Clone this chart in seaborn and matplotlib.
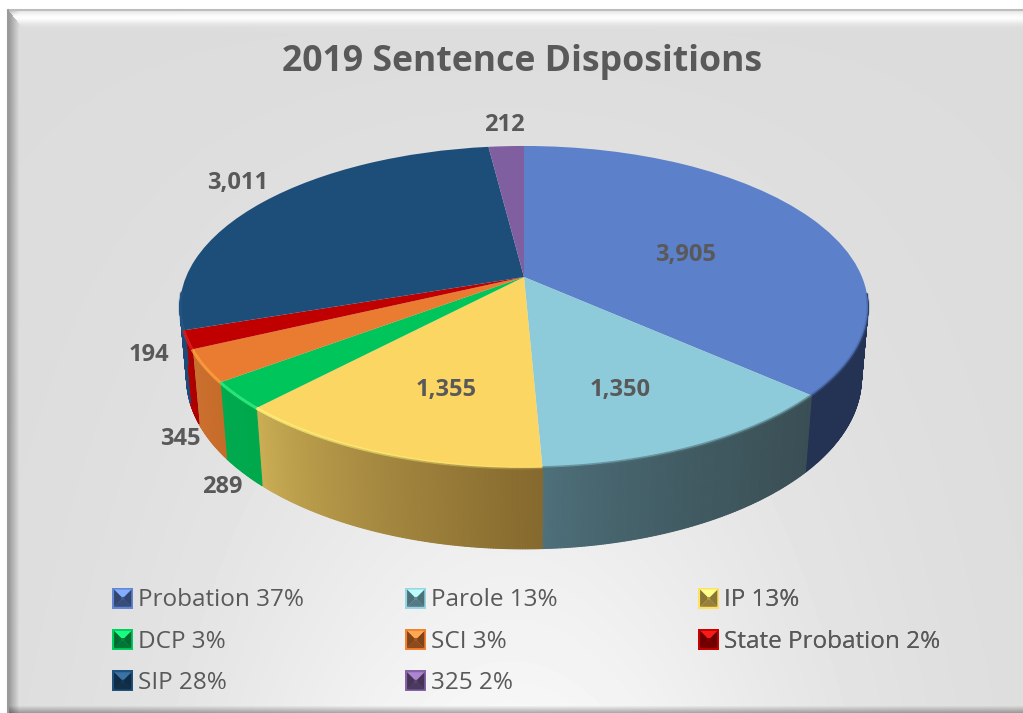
import numpy as np
import matplotlib
matplotlib.use("Agg")
import matplotlib.pyplot as plt
import seaborn as sns
from matplotlib.collections import LineCollection, PolyCollection
from matplotlib.colors import to_rgb
from matplotlib.legend_handler import HandlerBase
from matplotlib.patches import Patch, Polygon
from matplotlib.transforms import Transform

# data
names = ['Probation', 'Parole', 'IP', 'DCP', 'SCI', 'State Probation', 'SIP', '325']
counts = [3905, 1350, 1355, 289, 345, 194, 3011, 212]
title = '2019 Sentence Dispositions'

# styles
top_colors = ['#5c80c9', '#8ecbda', '#fbd663', '#00c55a', '#e97c31', '#c00000', '#1d4e79', '#7f5f9f']
wall_left = ['#243254', '#4f727d', '#cdb055', '#00aa4e', '#cc7030', '#b80000', '#1f4a78', '#5a4070']
wall_right = ['#243254', '#3a4f55', '#85692e', '#00a84c', '#c66c2a', '#a80000', '#1f4a78', '#5a4070']
rim_colors = ['#3d5a94', '#4d6f76', '#fff27a', '#33ee80', '#ffa040', '#e02020', '#2f6494', '#7f5f9f']
rim_alpha = [(0.0, 0.5), (0.6, 0.6), (0.15, 0.9), (0.9, 0.9), (0.9, 0.9), (0.9, 0.9), (0.4, 0.0), (0.0, 0.0)]
label_xy = [(686, 255), (620, 390), (446, 390), (222, 487), (180, 439), (149, 355), (238, 183), (504, 125)]
legend_cols = [[0, 3, 6], [1, 4, 7], [2, 5]]
legend_x = [105, 398, 691]
text_color = '#595959'

sns.set_theme(style='white')
plt.rcParams['font.family'] = ['Open Sans', 'DejaVu Sans']


def project(x, y, z=0.0):
    # camera tilt of the pie, z=1 is the bottom plate
    w = 1 + 0.186 * y + 0.019 * z
    return 524 + 338 * x / w, 277 + (-155.4 * y + 71 * z) / w


class TiltTransform(Transform):
    input_dims = 2
    output_dims = 2
    is_separable = False

    def transform_non_affine(self, values):
        values = np.asarray(values)
        px, py = project(values[:, 0], values[:, 1])
        return np.column_stack([px, py])


class BevelHandler(HandlerBase):
    def create_artists(self, legend, orig_handle, xdescent, ydescent, width, height, fontsize, trans):
        base = np.array(to_rgb(orig_handle.get_facecolor()))
        s = 15
        x0 = width - s - xdescent
        y0 = (height - s) / 2 - ydescent

        def square(inset):
            a, b = x0 + inset, x0 + s - inset
            c, d = y0 + inset, y0 + s - inset
            return [(a, c), (b, c), (b, d), (a, d)]

        outer = square(1.3)
        inner = square(6.5)
        # bottom, right, top, left faces of the little pyramid
        shades = [0.6, 0.55, 1.15, 0.55]
        parts = [Polygon(square(0), closed=True, facecolor=np.clip(base * 1.05, 0, 1), linewidth=0, transform=trans)]
        for k, shade in enumerate(shades):
            tri = [outer[k], outer[(k + 1) % 4], inner[(k + 1) % 4], inner[k]]
            parts.append(Polygon(tri, closed=True, facecolor=np.clip(base * shade + (0.1 if shade > 1 else 0), 0, 1),
                                 linewidth=0, transform=trans))
        parts.append(Polygon(inner, closed=True, facecolor=base * 0.7, linewidth=0, transform=trans))
        return parts


fig = plt.figure(figsize=(10.23, 7.13), dpi=100, facecolor='white')
ax = fig.add_axes([0, 0, 1, 1])

# top of the pie
wedges, _ = ax.pie(counts, colors=top_colors, startangle=90, counterclock=False,
                   wedgeprops=dict(linewidth=0))
tilt = TiltTransform()
for wedge in wedges:
    wedge.set_transform(tilt + ax.transData)
    wedge.set_zorder(5)

ax.set_aspect('auto')
ax.set_frame_on(False)

# background panel with its bevel
xx, yy = np.meshgrid(np.arange(8, 1023), np.arange(10, 713))
bg = 0.862 + 0.105 * np.exp(-((xx - 510) / 310) ** 2) * (yy / 713) ** 1.3
left_edge = np.clip((xx - 8) / 11, 0, 1)
bg = bg * (0.68 + 0.32 * left_edge)
top_edge = np.exp(-((yy - 17) / 6) ** 2)
bg = bg + (0.99 - bg) * top_edge * (xx > 8 + (yy - 10) * 0.8)
bottom_edge = np.clip((yy - 705) / 7, 0, 1)
bg = bg * (1 - 0.3 * bottom_edge)
ax.imshow(bg, extent=(8, 1023, 713, 10), cmap='gray', vmin=0, vmax=1, aspect='auto', zorder=0)
ax.plot([8, 1023], [10, 10], color='#bdbdbd', lw=1.5, zorder=2)
ax.plot([8, 8], [10, 713], color='#9a9a9a', lw=1.5, zorder=2)
ax.set_xlim(0, 1023)
ax.set_ylim(713, 0)

# side wall and rim, slice by slice
shares = np.array(counts) / sum(counts)
edges = np.concatenate([[0], np.cumsum(shares)]) * 2 * np.pi
strips = []
strip_colors = []
for i in range(len(counts)):
    t = np.arange(edges[i], edges[i + 1] + 0.006, 0.006)
    t[-1] = edges[i + 1]
    x = np.sin(t)
    y = np.cos(t)
    tx, ty = project(x, y)
    bx, by = project(x, y, 1.0)
    left = np.array(to_rgb(wall_left[i]))
    right = np.array(to_rgb(wall_right[i]))
    # gradient runs left to right across the slice
    span = ((tx - tx.min()) / (tx.max() - tx.min())) ** 0.7
    segs = []
    seg_colors = []
    fade = np.linspace(rim_alpha[i][0], rim_alpha[i][1], len(t))
    for j in range(len(t) - 1):
        if y[j] > -0.1:
            continue
        strips.append([(tx[j], ty[j]), (tx[j + 1], ty[j + 1]), (bx[j + 1], by[j + 1]), (bx[j], by[j])])
        strip_colors.append(left * (1 - span[j]) + right * span[j])
        segs.append([(tx[j], ty[j]), (tx[j + 1], ty[j + 1])])
        seg_colors.append((*to_rgb(rim_colors[i]), fade[j]))
    if segs:
        ax.add_collection(LineCollection(segs, colors=seg_colors, linewidths=2.2, capstyle='butt', zorder=6))
ax.add_collection(PolyCollection(strips, facecolors=strip_colors, edgecolors=strip_colors, linewidths=0.8, zorder=3))

# text
ax.text(522, 62, title, ha='center', va='center', fontsize=25.7, fontweight='bold', color=text_color, zorder=8)
for (lx, ly), value in zip(label_xy, counts):
    ax.text(lx, ly, f'{value:,}', ha='center', va='center', fontsize=17, fontweight='bold', color=text_color, zorder=8)

legend_labels = [f'{n} {round(c / sum(counts) * 100)}%' for n, c in zip(names, counts)]
for col, x_pos in zip(legend_cols, legend_x):
    handles = [Patch(facecolor=top_colors[k]) for k in col]
    leg = ax.legend(handles, [legend_labels[k] for k in col], loc='upper left',
                    bbox_to_anchor=(x_pos, 580), bbox_transform=ax.transData, frameon=False,
                    fontsize=17.5, labelcolor=text_color, handler_map={Patch: BevelHandler()},
                    handlelength=0.857, handleheight=1.0, handletextpad=0.206, labelspacing=0.665,
                    borderpad=0.3, borderaxespad=0)
    leg.set_zorder(8)
    ax.add_artist(leg)

fig.savefig('out.png', dpi=100)
